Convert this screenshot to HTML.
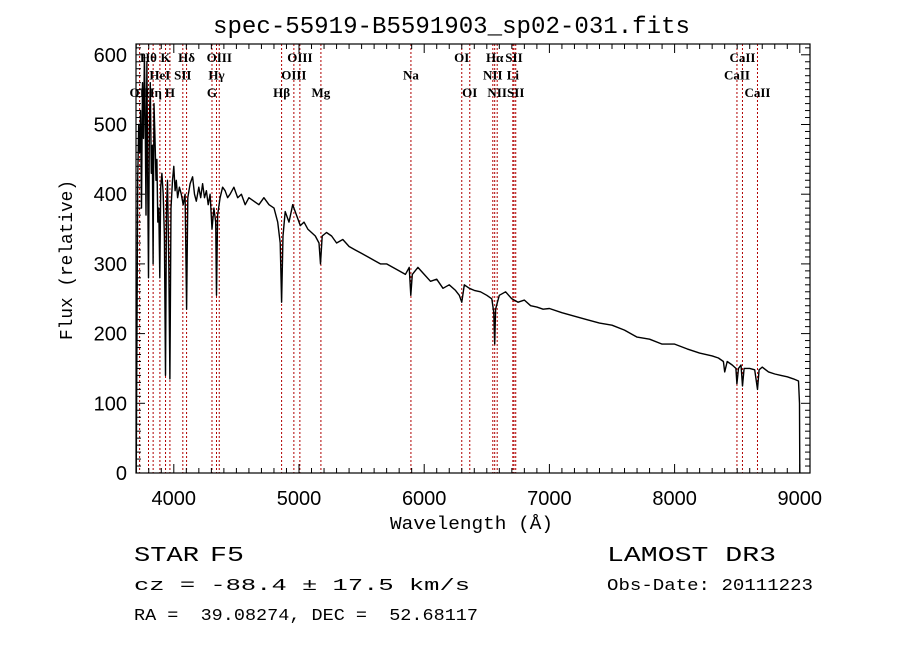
<!DOCTYPE html>
<html><head><meta charset="utf-8"><style>
body{margin:0;background:#fff;}
svg{display:block;font-family:"Liberation Sans",sans-serif;}
.lab{font-family:"Liberation Serif",serif;font-size:13px;font-weight:bold;fill:#000;}
.m{font-family:"Liberation Mono",monospace;}
</style></head><body>
<svg id="c" width="900" height="649" xmlns="http://www.w3.org/2000/svg">
<rect width="900" height="649" fill="#fff"/>
<text class="m" x="213" y="33" font-size="24" textLength="477" lengthAdjust="spacingAndGlyphs">spec-55919-B5591903_sp02-031.fits</text>
<g id="lines"></g>
<g id="axes"></g>
<g id="labs"></g>
<text class="m" x="390" y="529" font-size="18" textLength="163" lengthAdjust="spacingAndGlyphs">Wavelength (Å)</text>
<text class="m" transform="translate(72,340) rotate(-90)" font-size="18" textLength="160" lengthAdjust="spacingAndGlyphs">Flux (relative)</text>
<text class="m" x="134" y="561" font-size="21" textLength="65" lengthAdjust="spacingAndGlyphs">STAR</text>
<text class="m" x="210" y="561" font-size="21" textLength="34" lengthAdjust="spacingAndGlyphs">F5</text>
<text class="m" x="134" y="590" font-size="17" textLength="336" lengthAdjust="spacingAndGlyphs">cz = -88.4 ± 17.5 km/s</text>
<text class="m" x="134" y="620" font-size="17" textLength="344" lengthAdjust="spacingAndGlyphs" style="white-space:pre">RA =  39.08274, DEC =  52.68117</text>
<text class="m" x="607" y="561" font-size="21" textLength="169" lengthAdjust="spacingAndGlyphs">LAMOST DR3</text>
<text class="m" x="607" y="590" font-size="17" textLength="206" lengthAdjust="spacingAndGlyphs">Obs-Date: 20111223</text>
</svg>
<script>
const wl=[3700,3705,3712,3720,3728,3735,3742,3750,3758,3765,3770,3778,3785,3792,3798,3805,3812,3820,3828,3835,3842,3850,3858,3865,3872,3880,3888,3895,3905,3915,3925,3934,3942,3950,3960,3969,3978,3990,4000,4010,4020,4030,4045,4060,4075,4090,4102,4112,4130,4150,4165,4180,4200,4215,4230,4245,4260,4275,4290,4305,4320,4335,4341,4350,4370,4390,4410,4430,4450,4480,4510,4540,4570,4600,4640,4680,4720,4760,4800,4830,4850,4861,4872,4890,4920,4950,4980,5010,5040,5070,5100,5130,5160,5172,5185,5220,5260,5300,5350,5400,5450,5500,5550,5600,5650,5700,5750,5800,5850,5880,5893,5905,5950,6000,6050,6100,6150,6200,6250,6280,6300,6320,6360,6400,6450,6500,6540,6556,6563,6570,6600,6650,6700,6750,6800,6850,6900,6950,7000,7100,7200,7300,7400,7500,7600,7700,7800,7900,8000,8100,8200,8300,8350,8390,8400,8420,8460,8490,8498,8510,8530,8542,8555,8600,8640,8662,8675,8700,8750,8800,8850,8900,8950,8990,8998,9000];
const flux=[0,180,420,500,460,520,380,560,480,600,540,370,590,400,280,500,560,430,470,300,530,480,420,450,360,380,280,410,430,400,340,140,380,420,300,135,380,420,440,405,420,395,410,400,385,400,235,395,415,425,400,390,410,395,415,395,405,385,400,350,380,360,255,370,395,410,405,395,400,410,395,400,385,395,390,385,395,385,380,360,330,245,340,375,360,385,370,355,360,350,345,340,330,300,340,345,340,330,335,325,320,315,310,305,300,300,295,290,285,295,255,285,295,285,275,278,265,270,262,255,245,270,265,262,260,255,250,230,185,235,255,260,250,245,248,240,238,235,236,230,225,220,215,212,205,195,192,185,185,178,172,168,165,160,145,160,155,150,128,150,155,125,150,150,148,120,148,152,145,142,140,138,135,132,100,0];
const lineWl=[3727,3798,3835,3889,3934,3969,4072,4102,4305,4341,4363,4861,4959,5007,5175,5894,6300,6364,6548,6563,6583,6708,6717,6731,8498,8542,8662];
const labelText=["OII","Hθ","Hη","HeI","K","H","SII","Hδ","G","Hγ","OIII","Hβ","OIII","OIII","Mg","Na","OI","OI","NII","Hα","NII","Li","SII","SII","CaII","CaII","CaII"];
const labelRow=[2,0,2,1,0,2,1,0,2,1,0,2,1,0,2,1,0,2,1,0,2,1,0,2,1,0,2];
const xTicks=[4000,5000,6000,7000,8000,9000];
const yTicks=[0,100,200,300,400,500,600];
const X0=136,X1=810,Y0=44,Y1=473;
const x=l=>299+(l-5000)*0.1252;
const y=v=>473-v*0.697;
const NS="http://www.w3.org/2000/svg";
function mk(t,a,p){const e=document.createElementNS(NS,t);for(const k in a)e.setAttribute(k,a[k]);p.appendChild(e);return e;}
const L=document.getElementById('lines'),A=document.getElementById('axes'),B=document.getElementById('labs');
lineWl.forEach((l,i)=>{
  const e=mk('line',{x1:x(l),x2:x(l),y1:Y0,y2:Y1,stroke:'#b00000','stroke-width':1,'stroke-dasharray':'2,2'},L);
  
  
  const t=mk('text',{x:x(l),y:62+labelRow[i]*17.5,'text-anchor':'middle',class:'lab'},B);
  t.textContent=labelText[i];
  
  
});
const pts=wl.map((l,i)=>x(l).toFixed(1)+','+y(flux[i]).toFixed(1)).join(' ');
const sp=mk('polyline',{points:pts,fill:'none',stroke:'#000','stroke-width':1.4,'stroke-linejoin':'round'},L);


const fr=mk('rect',{x:X0,y:Y0,width:X1-X0,height:Y1-Y0,fill:'none',stroke:'#000','stroke-width':1.2},A);


for(let l=3700;l<=9080;l+=100){const xx=x(l);if(xx<X0||xx>X1)continue;const m=l%1000===0?9:5;
  mk('line',{x1:xx,x2:xx,y1:Y1,y2:Y1-m,stroke:'#000'},A);mk('line',{x1:xx,x2:xx,y1:Y0,y2:Y0+m,stroke:'#000'},A);}
for(let v=0;v<=610;v+=10){const yy=y(v);const m=v%100===0?9:5;
  mk('line',{x1:X0,x2:X0+m,y1:yy,y2:yy,stroke:'#000'},A);mk('line',{x1:X1,x2:X1-m,y1:yy,y2:yy,stroke:'#000'},A);}
xTicks.forEach(l=>{const t=mk('text',{x:x(l),y:505,'font-size':20,'text-anchor':'middle'},A);t.textContent=l;
  
  });
yTicks.forEach(v=>{const t=mk('text',{x:127,y:y(v)+7,'font-size':20,'text-anchor':'end'},A);t.textContent=v;
  
  });
</script>
</body></html>
